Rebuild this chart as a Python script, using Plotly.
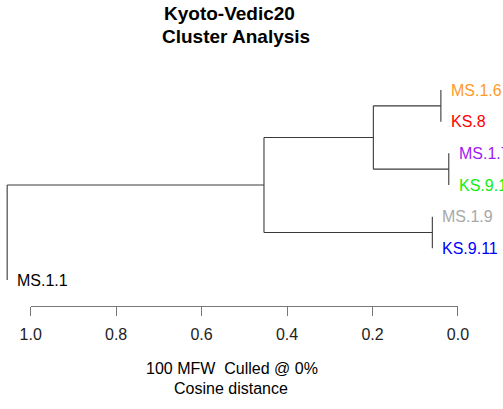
import plotly.graph_objects as go

# ---- data ----
leaves = ["MS.1.6", "KS.8", "MS.1.7", "KS.9.1", "MS.1.9", "KS.9.11", "MS.1.1"]
leaf_colors = ["#FF9A2A", "#FF0000", "#A020F0", "#11EE11", "#A8A8A8", "#0000FF", "#000000"]
node_names = ["A", "B", "C", "D", "E", "root"]
node_heights = [0.040, 0.0215, 0.198, 0.060, 0.454, 1.055]
node_children = [("MS.1.6", "KS.8"), ("MS.1.7", "KS.9.1"), ("A", "B"),
                 ("MS.1.9", "KS.9.11"), ("C", "D"), ("E", "MS.1.1")]
tick_vals = [1.0, 0.8, 0.6, 0.4, 0.2, 0.0]
tick_text = ["1.0", "0.8", "0.6", "0.4", "0.2", "0.0"]
title_lines = ["Kyoto-Vedic20", "Cluster Analysis"]
sub_lines = ["100 MFW  Culled @ 0%", "Cosine distance"]

W, H = 503, 409
FONT = "Liberation Sans, Arial, Helvetica, sans-serif"

height = dict(zip(node_names, node_heights))
children = dict(zip(node_names, node_children))
ypos = {name: i for i, name in enumerate(leaves)}
parent = {}
for n in node_names:
    for c in children[n]:
        parent[c] = n
xpos = {n: height[n] for n in node_names}
for lf in leaves:
    xpos[lf] = height[parent[lf]]
for n in node_names:  # bottom-up order
    c1, c2 = children[n]
    ypos[n] = (ypos[c1] + ypos[c2]) / 2

xs, ys = [], []
for n in node_names:
    c1, c2 = children[n]
    h = height[n]
    xs += [h, h, None]
    ys += [ypos[c1], ypos[c2], None]
    for c in (c1, c2):
        if xpos[c] != h:
            xs += [h, xpos[c], None]
            ys += [ypos[c], ypos[c], None]

fig = go.Figure()
fig.add_trace(go.Scatter(x=xs, y=ys, mode="lines",
                         line=dict(color="#3a3a3a", width=1.1),
                         hoverinfo="skip", showlegend=False))

annotations = []
for lf, col in zip(leaves, leaf_colors):
    annotations.append(dict(x=xpos[lf], y=ypos[lf], xref="x", yref="y",
                            text=lf, showarrow=False, xanchor="left",
                            yanchor="middle", xshift=8,
                            font=dict(family=FONT, size=16, color=col)))

X0, PXPER = 30.67, 427.3          # pixel of distance 1.0, pixels per unit
Y0, PYPER = 90.0, 31.667          # pixel of first leaf, pixels per leaf
xr = [1 + X0 / PXPER, 1 - (W - X0) / PXPER]
yr = [(H - Y0) / PYPER, -Y0 / PYPER]

def py(px):
    return 1 - px / H

title_px = [(229.5, 13.5), (236.0, 36.5)]
for t, (cx, cy) in zip(title_lines, title_px):
    annotations.append(dict(x=cx / W, y=py(cy), xref="paper", yref="paper",
                            text="<b>%s</b>" % t, showarrow=False,
                            xanchor="center", yanchor="middle",
                            font=dict(family=FONT, size=19, color="#000000")))
sub_px = [(232.0, 368.5), (231.0, 388.0)]
for t, (cx, cy) in zip(sub_lines, sub_px):
    annotations.append(dict(x=cx / W, y=py(cy), xref="paper", yref="paper",
                            text=t, showarrow=False,
                            xanchor="center", yanchor="middle",
                            font=dict(family=FONT, size=16, color="#000000")))

AX_Y = 305.5
fig.update_layout(
    width=W, height=H,
    margin=dict(l=0, r=0, t=0, b=0, pad=0, autoexpand=False),
    paper_bgcolor="white", plot_bgcolor="rgba(0,0,0,0)",
    xaxis=dict(range=xr, domain=[0, 1], visible=False, automargin=False),
    yaxis=dict(range=yr, domain=[0, 1], visible=False, automargin=False),
    xaxis2=dict(range=[1.0, 0.0], domain=[X0 / W, (X0 + PXPER) / W],
                anchor="y2", side="bottom", showline=True, linecolor="#777777",
                linewidth=1, ticks="outside", ticklen=9, tickwidth=1,
                tickcolor="#777777", tickvals=tick_vals, ticktext=tick_text,
                tickfont=dict(family=FONT, size=16, color="#222222"),
                showgrid=False, zeroline=False, ticklabelstandoff=5,
                automargin=False),
    yaxis2=dict(domain=[py(AX_Y), py(AX_Y) + 0.01], anchor="x2",
                visible=False, range=[0, 1], automargin=False),
    annotations=annotations,
    showlegend=False,
)
fig.add_trace(go.Scatter(x=[None], y=[None], xaxis="x2", yaxis="y2",
                         showlegend=False, hoverinfo="skip"))

fig.write_html("out.html", config={"displayModeBar": False, "staticPlot": True},
               post_script="document.body.style.margin='0';"
                           "document.body.style.padding='0';"
                           "document.documentElement.style.overflow='hidden';")
